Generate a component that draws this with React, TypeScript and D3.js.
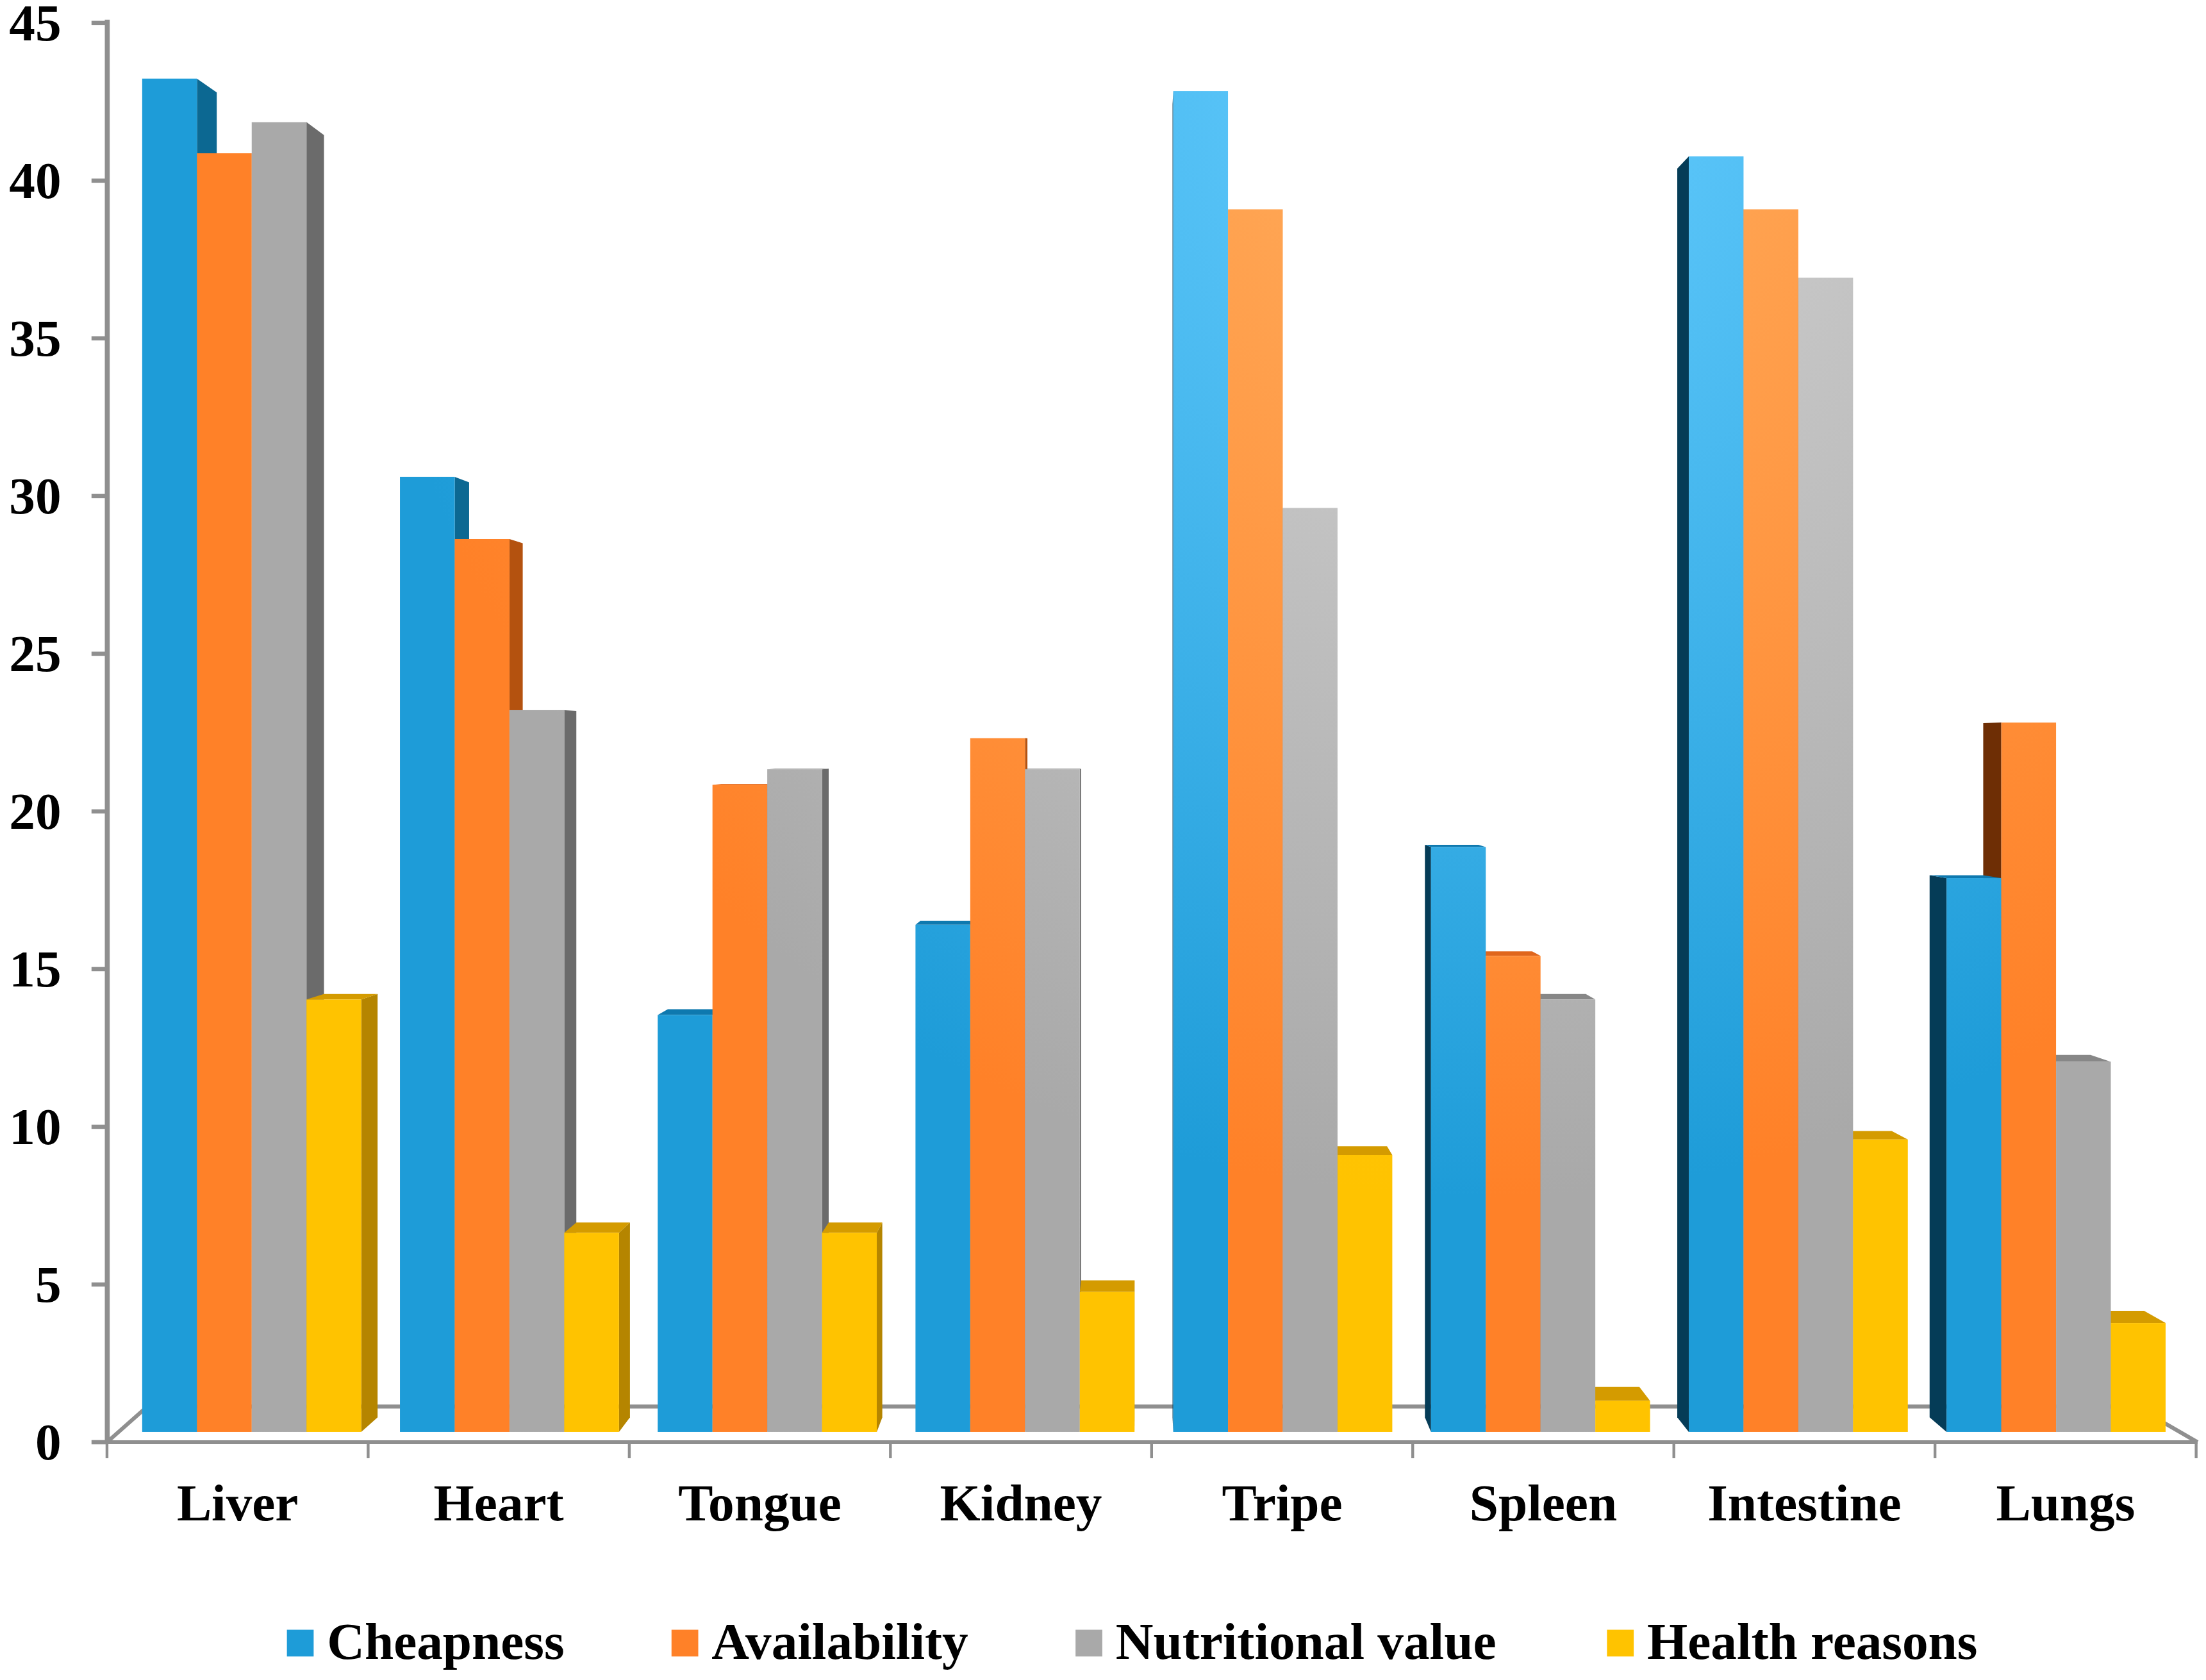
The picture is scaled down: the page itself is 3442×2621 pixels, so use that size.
import React from 'react';
import * as d3 from 'd3';

const categories = ['Liver', 'Heart', 'Tongue', 'Kidney', 'Tripe', 'Spleen', 'Intestine', 'Lungs'];
const seriesNames = ['Cheapness', 'Availability', 'Nutritional value', 'Health reasons'];
const cheapness = [43.5, 30.7, 13.4, 16.3, 43.1, 18.8, 41.0, 17.8];
const availability = [41.1, 28.7, 20.8, 22.3, 39.3, 15.3, 39.3, 22.8];
const nutritionalValue = [42.1, 23.2, 21.3, 21.3, 29.7, 13.9, 37.1, 11.9];
const healthReasons = [13.9, 6.4, 6.4, 4.5, 8.9, 1.0, 9.4, 3.5];
const yTicks = [0, 5, 10, 15, 20, 25, 30, 35, 40, 45];

const seriesValues = [cheapness, availability, nutritionalValue, healthReasons];
const frontColors = ['#1E9CD8', '#FF8128', '#A9A9A9', '#FFC300'];
const lightColors = ['#66CDFF', '#FFAE5E', '#D4D4D4', '#FFD040'];
const rightSideColors = ['#0C6892', '#B4520F', '#6B6B6B', '#B58500'];
const leftSideColors = ['#053C57', '#6E2E05', '#555555', '#8A6500'];
const topColors = ['#0E79AF', '#E0661C', '#878787', '#D49B00'];

const W = 1567;
const H = 1193.2;
const VX = 810;
const VY = 525;
const K = 0.021;
const FVX = 662;
const FVY = 505;
const FK = 0.0487;
const AXIS = '#8F8F8F';
const FONT = "'Liberation Serif', 'Times New Roman', serif";

const yAxis = d3.scaleLinear().domain([0, 45]).range([1024.3, 16.3]);
const yBar = d3.scaleLinear().domain([0, 45]).range([1017, 22.7]);
const xAxis = d3.scaleBand<string>().domain(categories).range([76, 1560]);
const xGroup = d3.scaleBand<string>().domain(categories).range([101, 101 + 8 * 183.1]);
const xSeries = d3.scaleBand<string>().domain(seriesNames).range([0, 155.6]);

const legendX = [203.8, 477, 764, 1141.5];

function proj(x: number, y: number, k: number, vx = VX, vy = VY): [number, number] {
  return [x + k * (vx - x), y + k * (vy - y)];
}
function pts(arr: [number, number][]) {
  return arr.map((p) => `${p[0].toFixed(2)},${p[1].toFixed(2)}`).join(' ');
}

export default function App() {
  const bars: any[] = [];
  categories.forEach((cat, i) => {
    seriesNames.forEach((s, j) => {
      const v = seriesValues[j][i];
      const x0 = (xGroup(cat) as number) + (xSeries(s) as number);
      const x1 = x0 + xSeries.bandwidth();
      const yt = yBar(v);
      const yb = yBar(0);
      bars.push({ key: `${cat}-${s}`, j, x0, x1, yt, yb });
    });
  });

  const sides = bars.map((b) => {
    if (b.x1 < VX) {
      return (
        <polygon key={'s' + b.key} fill={rightSideColors[b.j]}
          points={pts([[b.x1, b.yt], proj(b.x1, b.yt, K), proj(b.x1, b.yb, K), [b.x1, b.yb]])} />
      );
    } else if (b.x0 > VX) {
      return (
        <polygon key={'s' + b.key} fill={leftSideColors[b.j]}
          points={pts([[b.x0, b.yt], proj(b.x0, b.yt, K), proj(b.x0, b.yb, K), [b.x0, b.yb]])} />
      );
    }
    return null;
  });

  const tops = bars.map((b) =>
    b.yt > VY ? (
      <polygon key={'t' + b.key} fill={topColors[b.j]}
        points={pts([[b.x0, b.yt], [b.x1, b.yt], proj(b.x1, b.yt, K), proj(b.x0, b.yt, K)])} />
    ) : null
  );

  const fronts = bars.map((b) => (
    <rect key={'f' + b.key} x={b.x0} y={b.yt} width={b.x1 - b.x0} height={b.yb - b.yt}
      fill={`url(#grad${b.j})`} />
  ));

  const fl: [number, number] = [76, 1024.3];
  const fr: [number, number] = [1561, 1024.3];
  const bl = proj(fl[0], fl[1], FK, FVX, FVY);
  const br = proj(fr[0], fr[1], FK, FVX, FVY);

  const xTickPos = [...categories.map((c) => xAxis(c) as number), xAxis.range()[1]];

  return (
    <svg width={3442} height={2621} viewBox={`0 0 ${W} ${H}`} preserveAspectRatio="none"
      style={{ position: 'absolute', left: 0, top: 0, display: 'block', background: '#ffffff' }}>
      <defs>
        {seriesNames.map((s, j) => (
          <radialGradient key={s} id={`grad${j}`} gradientUnits="userSpaceOnUse" cx={1050} cy={50} r={800}>
            <stop offset="0" stopColor={lightColors[j]} />
            <stop offset="1" stopColor={frontColors[j]} />
          </radialGradient>
        ))}
      </defs>
      <rect x={0} y={0} width={W} height={H} fill="#ffffff" />

      {/* floor */}
      <polyline points={pts([fl, bl, br, fr])} fill="none" stroke={AXIS} strokeWidth={2.8} strokeLinejoin="round" />

      {/* bars */}
      <g>{sides}</g>
      <g>{tops}</g>
      <g>{fronts}</g>

      {/* front x-axis line */}
      <line x1={fl[0]} y1={fl[1]} x2={fr[0]} y2={fr[1]} stroke={AXIS} strokeWidth={2.8} />
      {xTickPos.map((x, i) => (
        <line key={'xt' + i} x1={x} y1={1024.3} x2={x} y2={1035.7} stroke={AXIS} strokeWidth={2} />
      ))}

      {/* y axis */}
      <line x1={76.2} y1={14} x2={76.2} y2={1024.3} stroke={AXIS} strokeWidth={3.5} />
      {yTicks.map((t) => (
        <g key={'yt' + t}>
          <line x1={65} y1={yAxis(t)} x2={76.2} y2={yAxis(t)} stroke={AXIS} strokeWidth={3} />
          <text x={43.5} y={yAxis(t) + 12.4} textAnchor="end" fontFamily={FONT} fontWeight="bold"
            fontSize={37} fill="#000">{t}</text>
        </g>
      ))}

      {/* category labels */}
      {categories.map((c) => (
        <text key={'cl' + c} x={(xAxis(c) as number) + xAxis.bandwidth() / 2} y={1080}
          textAnchor="middle" fontFamily={FONT} fontWeight="bold" fontSize={37} fill="#000">{c}</text>
      ))}

      {/* legend */}
      {seriesNames.map((s, j) => (
        <g key={'lg' + s}>
          <rect x={legendX[j]} y={1157.5} width={19} height={19} fill={frontColors[j]} />
          <text x={legendX[j] + 28.5} y={1178} fontFamily={FONT} fontWeight="bold" fontSize={37} fill="#000">{s}</text>
        </g>
      ))}
    </svg>
  );
}
